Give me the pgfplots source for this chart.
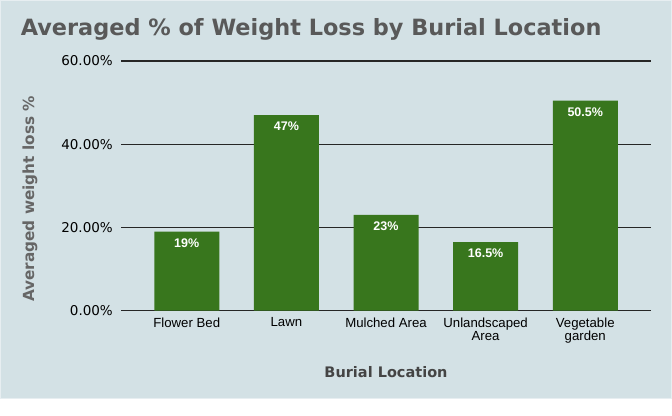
\documentclass[border=0pt]{standalone}
\usepackage{fontspec}
\setmainfont{DejaVu Sans}
\newfontfamily\lib{Liberation Sans}
\usepackage{pgfplots}
\pgfplotsset{compat=1.18}

\definecolor{bgcol}{RGB}{211,225,229}
\definecolor{barcol}{HTML}{38761D}
\definecolor{titlecol}{RGB}{89,89,89}
\definecolor{ylabcol}{RGB}{102,102,102}
\definecolor{xlabcol}{RGB}{68,68,68}

\begin{document}
\begin{tikzpicture}
  \useasboundingbox (0,0) rectangle (672bp,416bp);
  \fill[white] (0,0) rectangle (672bp,416bp);
  \fill[bgcol] (0,16.5bp) rectangle (672bp,416bp);
  \draw[white!45!bgcol, line width=1.2bp] (0.6bp,17.1bp) rectangle (671.4bp,415.4bp);

  \begin{axis}[
    at={(121bp,105.3bp)}, anchor=south west,
    scale only axis,
    width=530bp, height=249.7bp,
    xmin=-0.66, xmax=4.66,
    ymin=0, ymax=60,
    axis line style={draw=none},
    major tick length=0pt,
    ytick={0,20,40,60},
    yticklabels={0.00\%,20.00\%,40.00\%,60.00\%},
    yticklabel style={font=\fontsize{13.5bp}{15bp}\selectfont, anchor=east, inner sep=0pt, xshift=-8bp, text=black},
    xtick=data,
    xticklabels={Flower Bed, Lawn, Mulched Area, {Unlandscaped\\Area}, {Vegetable\\garden}},
    xticklabel style={font=\lib\fontsize{13.2bp}{12.7bp}\selectfont, align=center, anchor=north, inner sep=0pt, yshift=-7bp, text=black},
    ymajorgrids,
    grid style={black!85, line width=1.2bp},
    /pgf/number format/assume math mode=true,
  ]
    % averaged weight loss per location
    \addplot[ybar, bar width=65bp, fill=barcol, draw=none,
      nodes near coords={\pgfmathprintnumber{\pgfplotspointmeta}\%},
      every node near coord/.append style={anchor=north, inner sep=0pt, yshift=-7bp, text=white,
        font=\lib\bfseries\fontsize{12.5bp}{14bp}\selectfont}]
      coordinates {(0,19) (1,47) (2,23) (3,16.5) (4,50.5)};
  \end{axis}

  \node[anchor=base west, inner sep=0pt, text=titlecol, font=\bfseries\fontsize{22.4bp}{26bp}\selectfont]
    at (20.6bp,380bp) {Averaged \% of Weight Loss by Burial Location};
  \node[anchor=base, rotate=90, inner sep=0pt, text=ylabcol, font=\bfseries\fontsize{15.3bp}{18bp}\selectfont]
    at (34bp,217bp) {Averaged weight loss \%};
  \node[anchor=base, inner sep=0pt, text=xlabcol, font=\bfseries\fontsize{14.5bp}{17bp}\selectfont]
    at (386bp,39bp) {Burial Location};
\end{tikzpicture}
\end{document}
